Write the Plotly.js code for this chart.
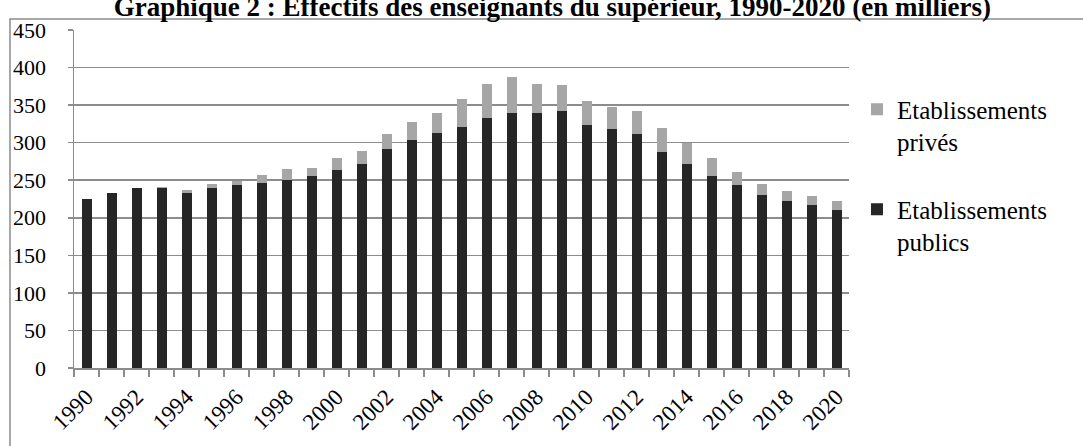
<!DOCTYPE html>
<html>
<head>
<meta charset="utf-8">
<script src="https://cdn.plot.ly/plotly-3.0.1.min.js"></script>
<style>html,body{margin:0;padding:0;background:#fff;}#chart{width:1083px;height:446px;}</style>
</head>
<body>
<div id="chart"></div>
<script>
const years = [1990,1991,1992,1993,1994,1995,1996,1997,1998,1999,2000,2001,2002,2003,2004,2005,2006,2007,2008,2009,2010,2011,2012,2013,2014,2015,2016,2017,2018,2019,2020];
const publics = [225,233,239,239,233,240,243,246,250,255,264,272,291,303,313,321,333,339,340,342,323,318,311,288,271,255,243,230,223,217,211];
const prives  = [0.5,0.5,1,2,4,4.5,6,11,15,11,15,17,20,24,26,37,45,49,38,35,33,29,31,31,28,24,18,15,13,12,12];
const tickYears = [1990,1992,1994,1996,1998,2000,2002,2004,2006,2008,2010,2012,2014,2016,2018,2020];
const tickLabels = tickYears.map(String);
const yTicks = [0,50,100,150,200,250,300,350,400,450];
const nomPublics = "Etablissements<br>publics";
const nomPrives = "Etablissements<br>privés";
const titre = "Graphique 2 : Effectifs des enseignants du supérieur, 1990-2020 (en milliers)";

const font = "'Liberation Serif','Times New Roman',serif";
const grid = '#8c8c8c';

const traces = [
  {type:'bar', x:years, y:publics, name:nomPublics, legendgroup:'b', legendrank:2,
   marker:{color:'#262626', line:{width:0}}, width:0.4, hoverinfo:'x+y'},
  {type:'bar', x:years, y:prives, name:nomPrives, legendgroup:'a', legendrank:1,
   marker:{color:'#a6a6a6', line:{width:0}}, width:0.4, hoverinfo:'x+y'}
];

const layout = {
  width:1083, height:446,
  margin:{l:74, r:234, t:30, b:78},
  paper_bgcolor:'#fff', plot_bgcolor:'#fff',
  barmode:'stack',
  font:{family:font, color:'#000', size:21},
  title:{text:'<b>'+titre+'</b>', font:{family:font, size:27, color:'#000'},
         x:0.51, xanchor:'center', xref:'container', y:0.986, yref:'container', yanchor:'middle'},
  xaxis:{
    range:[1989.5, 2020.5], tickmode:'array', tickvals:tickYears, ticktext:tickLabels,
    tickangle:-45, ticks:'', showgrid:false, zeroline:false,
    showline:true, linecolor:grid, linewidth:1.5,
    tickfont:{family:font, size:23, color:'#000'}, ticklabelstandoff:5,
    minor:{tick0:1989.5, dtick:1, ticks:'outside', ticklen:7, tickcolor:grid, tickwidth:1.5, showgrid:false}
  },
  yaxis:{
    range:[0,450], tickmode:'array', tickvals:yTicks, ticks:'outside', ticklen:5,
    tickcolor:grid, tickwidth:1.5, showgrid:true, gridcolor:grid, gridwidth:1.5,
    zeroline:false, showline:true, linecolor:grid, linewidth:1.5,
    tickfont:{family:font, size:22, color:'#000'}, ticklabelstandoff:17
  },
  legend:{x:1.0103, xanchor:'left', y:0.833, yanchor:'top', traceorder:'grouped',
          tracegroupgap:32, valign:'top', font:{family:font, size:25, color:'#000'},
          bgcolor:'rgba(0,0,0,0)'},
  showlegend:true,
  shapes:[{type:'rect', xref:'paper', yref:'paper', x0:-0.0826, x1:2, y0:-1, y1:1.0325,
           line:{color:'#8c8c8c', width:1.5}, fillcolor:'rgba(0,0,0,0)', layer:'below'}]
};

Plotly.newPlot('chart', traces, layout, {displayModeBar:false, staticPlot:true});
</script>
</body>
</html>
